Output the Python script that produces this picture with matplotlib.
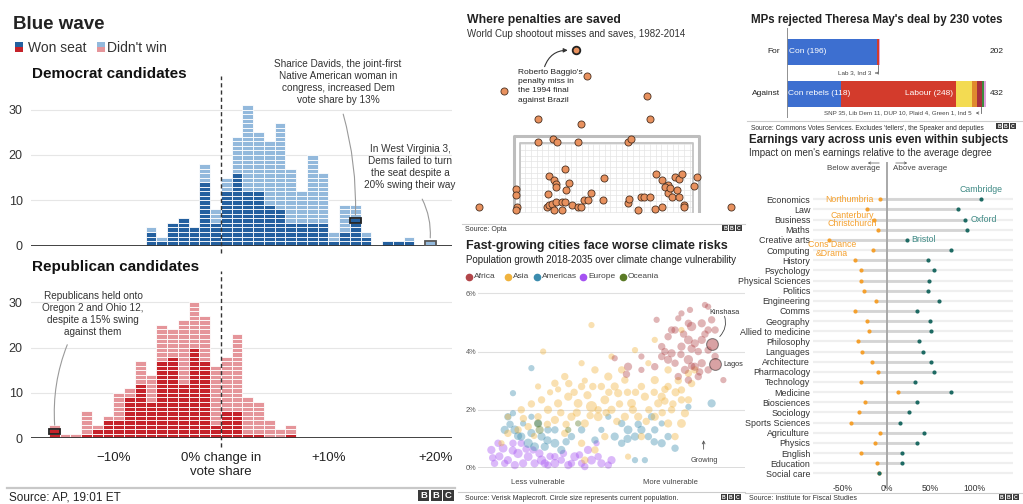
import numpy as np
import matplotlib
matplotlib.use("Agg")
import matplotlib.pyplot as plt
from matplotlib.patches import Rectangle, FancyArrowPatch

plt.rcParams['font.family'] = ['Liberation Sans', 'DejaVu Sans']
plt.rcParams['axes.unicode_minus'] = True

W, H = 1023, 504

# ---------------- data: Blue wave histograms ----------------
dem_bins = np.arange(-7, 20)
dem_total = [4, 2, 5, 6, 4, 18, 8, 15, 24, 31, 25, 23, 27, 17, 12, 20, 16, 3, 9, 9, 3, 0, 1, 1, 2, 0, 1]
dem_won = [3, 1, 5, 6, 4, 14, 5, 12, 16, 12, 12, 9, 8, 5, 5, 5, 5, 1, 3, 6, 2, 0, 1, 1, 1, 0, 0]
rep_bins = np.arange(-16, 7)
rep_total = [3, 1, 1, 6, 3, 5, 10, 11, 17, 14, 25, 24, 26, 30, 27, 16, 18, 23, 9, 8, 4, 2, 3]
rep_won = [2, 0, 0, 1, 2, 4, 4, 9, 12, 8, 17, 18, 12, 20, 17, 3, 6, 6, 1, 1, 0, 0, 1]

# ---------------- data: penalties (metres, goal centre = 0) ----------------
baggio = (-1.23, 5.15)
pen_x = [-0.76, -4.07, 1.58, -2.71, 1.71, -1.01, -5.06, 4.91, -2.71, -2.12, -1.97, -1.13, 0.85, 0.98,
         -1.63, -2.28, -2.10, -1.99, -1.99, -1.50, -0.10, -1.62, -2.34, -0.64, -3.57, -3.57, -3.54, -3.57,
         -2.35, -2.29, -2.18, -2.00, -2.10, -1.75, -1.64, -1.75, -1.37, -1.13, -1.00, -0.89, -0.73, -0.14,
         0.85, 0.89, 1.22, 1.34, 1.48, 1.71, 1.96, 2.20, 2.43, 2.30, 2.43, 2.50, 2.70, 2.86, 2.96, 2.80,
         2.59, 2.86, 3.07, 3.07, 1.91, 2.20, 3.44, 3.58]
pen_y = [4.34, 3.87, 3.69, 2.98, 2.98, 2.81, 0.16, 0.16, 2.25, 2.33, 2.25, 2.25, 2.25, 2.33,
         1.37, 1.17, 1.03, 0.89, 0.80, 0.94, 1.09, 0.71, 0.57, 0.63, 0.73, 0.55, 0.16, 0.07,
         0.18, 0.23, 0.27, 0.33, 0.07, 0.33, 0.33, 0.07, 0.24, 0.16, 0.16, 0.39, 0.39, 0.39,
         0.29, 0.42, 0.07, 0.48, 0.48, 0.48, 1.21, 1.03, 0.87, 0.80, 0.63, 0.76, 1.14, 1.05, 1.21, 0.71,
         0.48, 0.48, 0.23, 0.16, 0.10, 0.16, 0.84, 1.14]

# ---------------- data: cities (vulnerability, growth %, population m) ----------------
europe = [(0.5, 0.62, 3), (0.75, 0.85, 2), (0.94, 0.68, 4), (1.12, 0.27, 3), (1.31, 0.85, 2), (1.5, 0.5, 5),
          (1.69, 0.16, 3), (1.88, 0.39, 4), (2.12, 0.16, 3), (2.38, 0.27, 5), (2.62, 0.1, 2), (2.88, 0.16, 4),
          (3.12, 0.27, 2), (3.38, 0.1, 3), (3.62, 0.39, 4), (3.88, 0.16, 2), (4.12, 0.62, 3), (4.25, 0.27, 4),
          (4.5, 0.39, 2), (4.62, 0.16, 3), (4.88, 0.1, 2), (5.0, 0.27, 3), (1.0, 0.16, 2), (1.38, 0.1, 3),
          (2.06, 0.62, 2), (2.5, 0.16, 3), (2.88, 0.39, 2), (0.62, 0.16, 2), (1.62, 0.85, 2), (3.5, 0.16, 2),
          (4.44, 0.85, 1), (4.0, 0.05, 2), (0.8, 0.4, 3), (1.3, 0.6, 3), (1.8, 0.65, 2), (2.3, 0.5, 3),
          (2.7, 0.4, 2), (3.2, 0.5, 2), (3.8, 0.45, 2), (0.55, 0.35, 2)]
americas = [(1.31, 2.57, 1), (2.0, 3.43, 1), (1.12, 1.76, 2), (1.31, 1.88, 1), (1.0, 1.31, 3), (1.38, 1.31, 4),
            (1.62, 1.08, 3), (1.88, 0.85, 5), (2.12, 0.73, 4), (2.38, 1.08, 3), (2.62, 1.31, 2), (2.88, 0.85, 4),
            (3.12, 0.62, 3), (2.25, 1.53, 2), (2.0, 1.76, 1), (2.5, 0.73, 3), (3.5, 1.08, 2), (3.88, 1.31, 2),
            (4.38, 0.96, 2), (4.62, 1.31, 1), (5.12, 1.08, 3), (5.38, 1.53, 2), (5.62, 1.31, 4), (5.88, 1.08, 3),
            (6.12, 1.31, 3), (6.38, 1.08, 2), (6.62, 1.31, 2), (6.88, 0.85, 3), (7.12, 1.08, 2), (7.38, 0.68, 2),
            (5.88, 0.27, 1), (6.25, 0.27, 1), (7.88, 2.1, 1), (8.75, 2.22, 3), (4.88, 1.76, 1), (6.5, 1.76, 2),
            (6.88, 1.53, 1), (5.38, 0.85, 2), (2.88, 1.31, 2), (1.69, 1.53, 1), (1.5, 1.1, 3), (2.0, 1.2, 3),
            (2.6, 0.95, 3), (3.3, 0.9, 2), (5.6, 1.0, 3), (6.0, 1.5, 2), (6.6, 0.9, 2), (1.2, 1.5, 2)]
oceania = [(2.25, 1.53, 3), (2.31, 1.31, 3), (3.38, 1.31, 1), (3.75, 1.53, 1)]
asia = [(4.25, 4.91, 1), (2.44, 4.0, 1), (3.88, 3.6, 1), (2.88, 2.91, 2), (2.25, 2.8, 1), (3.25, 3.14, 2),
        (4.38, 3.37, 2), (4.88, 3.14, 3), (5.5, 3.02, 2), (6.12, 2.8, 2), (6.62, 3.02, 3), (7.12, 2.8, 2),
        (7.62, 2.68, 2), (7.88, 2.34, 2), (7.75, 1.88, 3), (7.62, 1.53, 4), (7.25, 2.0, 2), (6.75, 2.22, 3),
        (6.25, 2.45, 3), (5.75, 2.22, 4), (5.25, 2.57, 3), (4.75, 2.34, 4), (4.25, 2.11, 10), (3.75, 2.22, 4),
        (3.38, 2.45, 3), (3.0, 2.22, 3), (2.62, 2.0, 3), (2.25, 1.76, 2), (1.88, 1.42, 2), (1.5, 1.31, 2),
        (1.12, 1.19, 2), (0.88, 0.85, 1), (3.5, 1.76, 3), (4.0, 1.53, 3), (4.5, 1.76, 4), (5.0, 2.0, 3),
        (5.5, 1.76, 3), (6.0, 1.76, 3), (6.62, 1.76, 3), (7.12, 1.53, 3), (7.38, 1.08, 2), (6.12, 1.08, 2),
        (5.62, 0.39, 1), (4.0, 0.27, 2), (3.88, 0.85, 2), (4.38, 0.62, 2), (3.25, 1.19, 2), (2.88, 1.65, 3),
        (6.38, 3.6, 1), (5.88, 4.05, 1), (6.62, 4.4, 1), (7.62, 4.74, 1), (5.0, 3.83, 1), (5.38, 3.37, 2),
        (7.12, 3.37, 2), (7.88, 3.25, 2), (8.12, 3.37, 2), (5.12, 2.8, 3), (4.62, 2.8, 2), (3.88, 2.8, 2),
        (2.38, 2.34, 2), (1.62, 2.0, 2), (1.12, 1.76, 1), (6.88, 2.45, 3), (7.62, 2.34, 2), (4.75, 1.08, 2),
        (3.1, 1.9, 2), (3.6, 2.6, 2), (4.1, 2.5, 3), (4.5, 2.0, 2), (5.3, 2.2, 2), (5.9, 2.6, 2), (6.4, 2.0, 2),
        (7.0, 2.3, 2), (7.4, 2.6, 3), (2.7, 2.6, 1), (3.4, 2.9, 2), (4.0, 3.0, 1), (5.6, 2.6, 2), (6.9, 1.9, 2),
        (8.0, 2.9, 2), (7.5, 3.0, 2), (2.0, 2.2, 2), (2.6, 1.5, 2), (3.3, 1.5, 2), (3.7, 1.9, 3), (4.2, 1.8, 2),
        (4.8, 1.9, 2), (5.2, 1.6, 2), (5.8, 2.0, 3), (6.3, 1.6, 2), (6.6, 2.6, 2), (7.0, 2.7, 2), (7.3, 2.2, 2),
        (4.3, 2.8, 2), (4.9, 2.6, 2), (3.0, 2.7, 1), (2.1, 1.1, 1), (1.7, 1.7, 2)]
africa = [(5.12, 3.77, 1), (5.56, 3.22, 2), (6.12, 3.83, 1), (6.69, 5.09, 1), (6.88, 4.17, 2), (7.12, 4.51, 2),
          (7.38, 4.74, 2), (7.5, 5.14, 1), (7.62, 5.31, 1), (7.88, 4.97, 2), (7.94, 5.43, 1), (8.5, 5.6, 1),
          (8.62, 5.54, 1), (8.38, 4.97, 3), (8.62, 4.74, 2), (8.88, 4.74, 2), (7.25, 3.94, 3), (7.62, 4.17, 3),
          (7.88, 4.4, 4), (8.12, 4.28, 3), (8.38, 4.4, 3), (8.62, 4.05, 2), (8.88, 3.83, 2), (7.88, 3.72, 5),
          (8.12, 3.48, 3), (8.38, 3.6, 3), (8.62, 3.37, 2), (7.75, 3.37, 3), (7.38, 3.6, 2), (7.12, 3.72, 3),
          (6.88, 3.83, 2), (7.88, 3.02, 2), (8.25, 3.14, 2), (9.19, 3.02, 1), (8.0, 4.86, 5), (8.25, 4.0, 2),
          (7.5, 3.14, 2), (7.25, 4.74, 2), (8.75, 5.09, 2), (6.62, 3.48, 2), (6.12, 3.37, 1), (5.62, 3.48, 3),
          (7.0, 4.0, 2), (7.6, 3.9, 2), (8.0, 4.1, 3), (8.5, 4.6, 2), (7.7, 4.6, 2), (8.3, 3.3, 2), (8.0, 3.5, 2)]
kinshasa = (8.75, 4.25, 13)
lagos = (8.88, 3.56, 13)

# ---------------- data: Commons vote ----------------
for_parties = ['Con', 'Lab', 'Ind']
for_votes = [196, 3, 3]
against_parties = ['Con rebels', 'Labour', 'SNP', 'Lib Dem', 'DUP', 'Plaid', 'Green', 'Ind']
against_votes = [118, 248, 35, 11, 10, 4, 1, 5]

# ---------------- data: earnings ----------------
subjects = ['Economics', 'Law', 'Business', 'Maths', 'Creative arts', 'Computing', 'History', 'Psychology',
            'Physical Sciences', 'Politics', 'Engineering', 'Comms', 'Geography', 'Allied to medicine',
            'Philosophy', 'Languages', 'Architecture', 'Pharmacology', 'Technology', 'Medicine',
            'Biosciences', 'Sociology', 'Sports Sciences', 'Agriculture', 'Physics', 'English',
            'Education', 'Social care']
earn_min = [-8, -22, -14, -10, -66, -16, -36, -29, -29, -26, -12, -36, -22, -20, -33, -28, -17, -10, -29,
            13, -25, -32, -41, -8, -13, -29, -11, -9]
earn_max = [108, 81, 89, 91, 23, 73, 47, 54, 48, 47, 60, 35, 49, 50, 37, 41, 51, 54, 32, 73, 34, 26, 15,
            42, 34, 17, 18, -9]

fig = plt.figure(figsize=(W / 100, H / 100), dpi=100)
fig.patch.set_facecolor('white')


def axbox(x0, y0, x1, y1):
    return fig.add_axes([x0 / W, 1 - y1 / H, (x1 - x0) / W, (y1 - y0) / H])


def ftext(x, y, s, **kw):
    return fig.text(x / W, 1 - y / H, s, **kw)


def frect(x0, y0, w, h, **kw):
    fig.patches.append(Rectangle((x0 / W, 1 - (y0 + h) / H), w / W, h / H,
                                 transform=fig.transFigure, figure=fig, **kw))


def fline(x0, x1, y, color='#cccccc', lw=1.2):
    fig.add_artist(plt.Line2D([x0 / W, x1 / W], [1 - y / H, 1 - y / H], color=color, lw=lw))


def farrow(x0, x1, y):
    fig.add_artist(FancyArrowPatch((x0 / W, 1 - y / H), (x1 / W, 1 - y / H), transform=fig.transFigure,
                                   arrowstyle='->', mutation_scale=4, lw=0.5, color='#555555'))


def bbc(x0, y0, size, gap):
    for i, ch in enumerate('BBC'):
        xx = x0 + i * (size + gap)
        frect(xx, y0, size, size, color='#3a3a3a', lw=0)
        ftext(xx + size / 2, y0 + size / 2 + 0.5, ch, color='white', fontsize=size * 0.62,
              fontweight='bold', ha='center', va='center')


# ================= Blue wave =================
dem_dark, dem_light = '#24609f', '#93b9dc'
rep_dark, rep_light = '#c5222a', '#e5959a'


def draw_hist(ax, bins, total, won, dark, light):
    xs, bs, cs = [], [], []
    for b, t, w in zip(bins, total, won):
        for k in range(t):
            xs.append(b)
            bs.append(k)
            cs.append(dark if k < w else light)
    ax.bar(xs, 1, bottom=bs, width=1, align='edge', color=cs, edgecolor='white', linewidth=0.6, zorder=2)
    for s in ax.spines.values():
        s.set_visible(False)
    ax.set_xlim(-17.67, 21.49)
    ax.set_ylim(0, 35)
    ax.set_yticks([0, 10, 20, 30])
    ax.tick_params(axis='y', length=0, pad=6, labelsize=9, labelcolor='#333333')
    ax.grid(axis='y', color='#e6e6e6', lw=0.8, zorder=0)
    ax.set_axisbelow(True)
    ax.axhline(0, color='#333333', lw=1.3, zorder=3)


ax_dem = axbox(31, 87, 452, 245.6)
draw_hist(ax_dem, dem_bins, dem_total, dem_won, dem_dark, dem_light)
ax_dem.set_xticks([])
ax_dem.plot([0, 0], [-1.6, 37.5], ls=(0, (3, 2.2)), color='#333333', lw=1, clip_on=False, zorder=4)
ax_dem.add_patch(Rectangle((12, 5), 1, 1, fill=False, ec='#222222', lw=1.3, zorder=5))
ax_dem.add_patch(Rectangle((19, 0), 1, 1, fill=False, ec='#555555', lw=1.3, zorder=5))
ax_dem.annotate('', xy=(12.5, 6.1), xytext=(11.3, 29.6),
                arrowprops=dict(arrowstyle='-', color='#9a9a9a', lw=0.8, connectionstyle='arc3,rad=-0.08'))
ax_dem.annotate('', xy=(19.45, 1.1), xytext=(18.6, 10.8),
                arrowprops=dict(arrowstyle='-', color='#9a9a9a', lw=0.8, connectionstyle='arc3,rad=-0.15'))

ax_rep = axbox(31, 279.6, 452, 438.3)
draw_hist(ax_rep, rep_bins, rep_total, rep_won, rep_dark, rep_light)
ax_rep.set_xticks([-10, 0, 10, 20], ['\u221210%', '0% change in\nvote share', '+10%', '+20%'])
ax_rep.tick_params(axis='x', length=0, pad=10, labelsize=9.5, labelcolor='#222222')
ax_rep.plot([0, 0], [-1.85, 36.8], ls=(0, (3, 2.2)), color='#333333', lw=1, clip_on=False, zorder=4)
ax_rep.add_patch(Rectangle((-16, 1), 1, 1, fill=False, ec='#222222', lw=1.3, zorder=5))
ax_rep.annotate('', xy=(-15.45, 2.3), xytext=(-14.2, 21.2),
                arrowprops=dict(arrowstyle='-', color='#9a9a9a', lw=0.8, connectionstyle='arc3,rad=0.12'))

ftext(13, 29, 'Blue wave', fontsize=13.5, fontweight='bold', color='#222222', va='baseline')
frect(15, 42, 8, 5, color=dem_dark, lw=0)
frect(15, 47, 8, 5, color=rep_dark, lw=0)
ftext(28, 51.5, 'Won seat', fontsize=10, color='#333333', va='baseline')
frect(97, 42, 8, 5, color=dem_light, lw=0)
frect(97, 47, 8, 5, color=rep_light, lw=0)
ftext(107, 51.5, "Didn't win", fontsize=10, color='#333333', va='baseline')
ftext(32, 77.5, 'Democrat candidates', fontsize=11, fontweight='bold', color='#111111', va='baseline')
ftext(32, 270.5, 'Republican candidates', fontsize=11, fontweight='bold', color='#111111', va='baseline')
ftext(338, 59, 'Sharice Davids, the joint-first\nNative American woman in\ncongress, increased Dem\nvote share by 13%',
      fontsize=7.2, color='#333333', ha='center', va='top', linespacing=1.25)
ftext(410, 144, 'In West Virginia 3,\nDems failed to turn\nthe seat despite a\n20% swing their way',
      fontsize=7.2, color='#333333', ha='center', va='top', linespacing=1.25)
ftext(93, 291, 'Republicans held onto\nOregon 2 and Ohio 12,\ndespite a 15% swing\nagainst them',
      fontsize=7.2, color='#333333', ha='center', va='top', linespacing=1.25)
fline(7, 455, 487.5, color='#c8c8c8', lw=1.6)
ftext(9, 500, 'Source: AP, 19:01 ET', fontsize=8.5, color='#222222', va='baseline')
bbc(418, 490, 11, 1.5)

# ================= Penalties =================
ax_pen = axbox(455, 40, 745, 213.3)
ax_pen.set_xlim(-6.0, 5.47)
ax_pen.set_ylim(-0.03, 5.48)
ax_pen.axis('off')
for gx in np.arange(-3.436, 3.43, 0.224):
    ax_pen.plot([gx, gx], [0, 2.196], color='#e4e4e4', lw=0.5, zorder=0)
for gy in np.arange(0.0, 2.196, 0.18):
    ax_pen.plot([-3.436, 3.423], [gy, gy], color='#e4e4e4', lw=0.5, zorder=0)
ax_pen.plot([-3.436, -3.436, 3.423, 3.423], [0, 2.196, 2.196, 0], color='#c4c4c4', lw=1.3, zorder=1)
ax_pen.plot([-3.66, -3.66, 3.66, 3.66], [0, 2.44, 2.44, 0], color='#bdbdbd', lw=2.2, zorder=1)
ax_pen.scatter(pen_x, pen_y, s=26, color='#e8915e', edgecolor='#4a3020', linewidth=0.6, zorder=3, clip_on=False)
ax_pen.scatter([baggio[0]], [baggio[1]], s=30, color='#e8915e', edgecolor='#222222', linewidth=1.3, zorder=3,
               clip_on=False)
ax_pen.annotate('', xy=(baggio[0] - 0.2, baggio[1]), xytext=(-2.49, 4.55),
                arrowprops=dict(arrowstyle='-|>', color='#333333', lw=0.8, mutation_scale=6,
                                connectionstyle='arc3,rad=-0.4'))
ftext(467, 23, 'Where penalties are saved', fontsize=8.8, fontweight='bold', color='#222222', va='baseline')
ftext(467, 37, 'World Cup shootout misses and saves, 1982-2014', fontsize=7, color='#333333', va='baseline')
ftext(518, 69, "Roberto Baggio's\npenalty miss in\nthe 1994 final\nagainst Brazil", fontsize=6,
      color='#222222', va='top', linespacing=1.45)
fline(462, 745, 223.5, color='#cccccc', lw=0.8)
ftext(465, 231, 'Source: Opta', fontsize=5, color='#333333', va='baseline')
bbc(722, 225, 6, 0.8)

# ================= Cities =================
ax_c = axbox(478, 287.5, 745, 468)
ax_c.set_xlim(0, 10)
ax_c.set_ylim(0, 6.2)
for s in ax_c.spines.values():
    s.set_visible(False)
ax_c.set_yticks([0, 2, 4, 6], ['0%', '2%', '4%', '6%'])
ax_c.set_xticks([])
ax_c.tick_params(axis='y', length=0, pad=1, labelsize=5.3, labelcolor='#555555')
ax_c.grid(axis='y', color='#e0e0e0', lw=0.8)
ax_c.set_axisbelow(True)
region_cols = {'Africa': '#b2464a', 'Asia': '#f0b33e', 'Americas': '#3c8cae', 'Europe': '#a552f2',
               'Oceania': '#5a7a26'}


def pop_size(p):
    return 20 * np.sqrt(p)


for name, pts in [('Europe', europe), ('Americas', americas), ('Asia', asia), ('Oceania', oceania),
                  ('Africa', africa)]:
    xs = [p[0] for p in pts]
    ys = [p[1] for p in pts]
    ss = [pop_size(p[2]) for p in pts]
    ax_c.scatter(xs, ys, s=ss, color=region_cols[name], alpha=0.4, linewidth=0, clip_on=False, zorder=2)
for city in (kinshasa, lagos):
    ax_c.scatter([city[0]], [city[1]], s=pop_size(city[2]), color=region_cols['Africa'], alpha=0.5,
                 edgecolor='#222222', linewidth=0.8, zorder=3)
ax_c.axhline(0, color='#555555', lw=1, zorder=4)
ax_c.annotate('', xy=(8.98, 4.45), xytext=(9.2, 5.3),
              arrowprops=dict(arrowstyle='-', color='#444444', lw=0.6, connectionstyle='arc3,rad=-0.35'))
ax_c.annotate('', xy=(8.45, 1.05), xytext=(8.45, 0.55),
              arrowprops=dict(arrowstyle='->', color='#555555', lw=0.6, mutation_scale=5))
ftext(725, 312, 'Kinshasa', fontsize=5.3, color='#333333', ha='center', va='center')
ftext(723, 364, 'Lagos', fontsize=5.3, color='#333333', ha='left', va='center')
ftext(704, 460, 'Growing', fontsize=5.3, color='#444444', ha='center', va='center')
ftext(538, 483, 'Less vulnerable', fontsize=5.5, color='#444444', ha='center', va='center')
ftext(670, 483, 'More vulnerable', fontsize=5.5, color='#444444', ha='center', va='center')
ftext(466, 248.5, 'Fast-growing cities face worse climate risks', fontsize=9.0, fontweight='bold',
      color='#222222', va='baseline')
ftext(466, 263, 'Population growth 2018-2035 over climate change vulnerability', fontsize=7,
      color='#222222', va='baseline')
leg_x = [469, 508, 537, 583, 623]
for lx, name in zip(leg_x, ['Africa', 'Asia', 'Americas', 'Europe', 'Oceania']):
    fig.add_artist(plt.Line2D([lx / W], [1 - 277 / H], marker='o', ms=4.5, color=region_cols[name], lw=0))
    ftext(lx + 5, 277, name, fontsize=6, color='#444444', va='center')
fline(458, 745, 492, color='#cccccc', lw=0.8)
ftext(465, 500, 'Source: Verisk Maplecroft. Circle size represents current population.', fontsize=5,
      color='#333333', va='baseline')
bbc(721, 494, 6, 0.8)

# ================= Commons vote =================
cols_for = ['#3d6fd0', '#d33b2c', '#e3a0de']
cols_against = ['#3d6fd0', '#d33b2c', '#f3db52', '#e08a2e', '#a8303e', '#3e8b3e', '#6bc24a', '#e3a0de']
ax_m = axbox(786.7, 28, 1010, 118)
ax_m.set_xlim(0, 483.3)
ax_m.set_ylim(-0.59, 1.578)
ax_m.axis('off')
ax_m.barh([1] * 3, for_votes, left=np.cumsum([0] + for_votes[:-1]), height=0.626, color=cols_for, lw=0)
ax_m.barh([0] * 8, against_votes, left=np.cumsum([0] + against_votes[:-1]), height=0.626,
          color=cols_against, lw=0)
ax_m.plot([0, 0], [-0.59, 1.578], color='#888888', lw=1.3)
ax_m.text(5, 1, 'Con ({})'.format(for_votes[0]), color='white', fontsize=6, va='center')
ax_m.text(3, 0, 'Con rebels ({})'.format(against_votes[0]), color='white', fontsize=6, va='center')
ax_m.text(against_votes[0] + against_votes[1] - 7, 0, 'Labour ({})'.format(against_votes[1]), color='white',
          fontsize=6, va='center', ha='right')
ax_m.text(440, 1, str(sum(for_votes)), fontsize=6, color='#222222', va='center')
ax_m.text(440, 0, str(sum(against_votes)), fontsize=6, color='#222222', va='center')
ax_m.text(-14, 1, 'For', fontsize=6, color='#222222', va='center', ha='right')
ax_m.text(-14, 0, 'Against', fontsize=6, color='#222222', va='center', ha='right')
ax_m.plot([198, 198], [0.687, 0.494], color='#666666', lw=0.6)
ax_m.annotate('', xy=(186, 0.494), xytext=(198.3, 0.494),
              arrowprops=dict(arrowstyle='->', color='#666666', lw=0.6, mutation_scale=4))
ax_m.text(183, 0.494, 'Lab 3, Ind 3', fontsize=4.6, color='#444444', va='center', ha='right')
ax_m.plot([420, 420], [-0.313, -0.47], color='#666666', lw=0.6)
ax_m.annotate('', xy=(403, -0.47), xytext=(420.3, -0.47),
              arrowprops=dict(arrowstyle='->', color='#666666', lw=0.6, mutation_scale=4))
ax_m.text(400, -0.47, 'SNP 35, Lib Dem 11, DUP 10, Plaid 4, Green 1, Ind 5', fontsize=4.5, color='#444444',
          va='center', ha='right')
ftext(751, 23, "MPs rejected Theresa May's deal by 230 votes", fontsize=8.3, fontweight='bold',
      color='#222222', va='baseline')
fline(747, 1023, 121, color='#cccccc', lw=0.8)
ftext(751, 129.5, "Source: Commons Votes Services. Excludes 'tellers', the Speaker and deputies", fontsize=4.8,
      color='#333333', va='baseline')
bbc(996, 123, 6, 0.8)

# ================= Earnings =================
orange, teal = '#f4a02e', '#1e6a63'
rows = np.arange(len(subjects))
ax_e = axbox(813, 163, 1013, 480)
ax_e.set_xlim(-84, 144)
ax_e.set_ylim(27.66, -3.58)
for s in ax_e.spines.values():
    s.set_visible(False)
ax_e.hlines(rows, -84, 144, color='#efefef', lw=1.6, zorder=0)
ax_e.hlines(rows, earn_min, earn_max, color='#d4d4d4', lw=2.0, zorder=1)
ax_e.plot([0, 0], [-3.58, 28.4], color='#a8a8a8', lw=1.4, zorder=2, clip_on=False)
ax_e.scatter(earn_min, rows, s=9, color=orange, zorder=3, lw=0)
ax_e.scatter(earn_max, rows, s=9, color=teal, zorder=4, lw=0)
ax_e.set_yticks(rows, subjects)
ax_e.set_xticks([-50, 0, 50, 100], ['-50%', '0%', '50%', '100%'])
ax_e.tick_params(axis='y', length=0, pad=2, labelsize=6.4, labelcolor='#333333')
ax_e.tick_params(axis='x', length=0, pad=3, labelsize=6.2, labelcolor='#333333')
ax_e.text(-14.8, 0, 'Northumbria', color=orange, fontsize=6.3, ha='right', va='center')
ax_e.text(107, -0.98, 'Cambridge', color='#3f8a85', fontsize=6.3, ha='center', va='center')
ax_e.text(96, 2, 'Oxford', color='#3f8a85', fontsize=6.3, ha='left', va='center')
ax_e.text(-39, 2.0, 'Canterbury\nChristchurch', color=orange, fontsize=6.3, ha='center', va='center',
          linespacing=0.95)
ax_e.text(28, 4, 'Bristol', color='#3f8a85', fontsize=6.3, ha='left', va='center')
ax_e.text(-62, 4.9, 'Cons Dance\n&Drama', color=orange, fontsize=6.3, ha='center', va='center',
          linespacing=0.95)
ftext(880, 169, 'Below average', fontsize=5.8, color='#444444', ha='right', va='center')
ftext(893, 169, 'Above average', fontsize=5.8, color='#444444', ha='left', va='center')
farrow(882, 865, 163)
farrow(893, 910, 163)
ftext(749, 143.5, 'Earnings vary across unis even within subjects', fontsize=8.3, fontweight='bold',
      color='#222222', va='baseline')
ftext(749, 155.5, "Impact on men's earnings relative to the average degree", fontsize=7.0,
      color='#333333', va='baseline')
fline(745, 1023, 493, color='#cccccc', lw=0.8)
ftext(749, 500.5, 'Source: Institute for Fiscal Studies', fontsize=5, color='#333333', va='baseline')
bbc(999, 494, 6, 0.8)

fig.savefig('out.png', dpi=100)
